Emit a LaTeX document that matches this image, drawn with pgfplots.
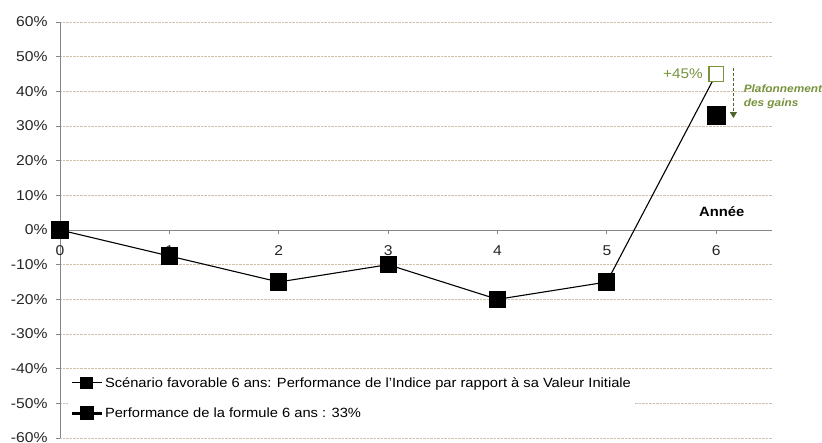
\documentclass[border=0pt]{standalone}
\usepackage{pgfplots}
\pgfplotsset{compat=1.18}
\usepackage{fontspec}
\setmainfont[FakeStretch=1.1]{Liberation Sans}
\usetikzlibrary{arrows.meta}
\definecolor{axisgray}{HTML}{868686}
\definecolor{gridtan}{HTML}{CFC2A8}
\definecolor{olivegreen}{HTML}{77933C}
\definecolor{darkolive}{HTML}{4F6228}
\begin{document}
\begin{tikzpicture}
\begin{axis}[
  scale only axis, width=712bp, height=416bp,
  xmin=0, xmax=6.51, ymin=-60, ymax=60,
  axis x line=middle, axis y line=left,
  axis line style={-, draw=axisgray, line width=0.8bp},
  hide obscured x ticks=false,
  xtick={0,1,2,3,4,5,6},
  xticklabels={0,1,2,3,4,5,6},
  ytick={-60,-50,-40,-30,-20,-10,0,10,20,30,40,50,60},
  yticklabels={-60\%,-50\%,-40\%,-30\%,-20\%,-10\%,0\%,10\%,20\%,30\%,40\%,50\%,60\%},
  tick style={draw=axisgray, line width=0.8bp},
  tick align=outside, major tick length=4bp,
  ymajorgrids, grid style={densely dotted, gridtan, line width=0.8bp},
  every tick label/.append style={font=\fontsize{14.3}{16}\selectfont, text=black!85},
  xticklabel style={yshift=-8bp},
  yticklabel style={xshift=-5bp},
  clip=false,
  legend cell align=left,
  legend style={at={(rel axis cs:0.011,0.0962)}, anchor=west, draw=none, fill=white,
    font=\fontsize{13.4}{15}\selectfont, row sep=15bp, inner xsep=2bp, inner ysep=4bp},
]
\addplot[black, line width=1.1bp, mark=square*, mark size=8bp, mark indices={1,2,3,4,5,6},
  legend image code/.code={\draw[black, line width=1.1bp] (0bp,0bp) -- (30bp,0bp); \fill[black] (9.5bp,-5.5bp) rectangle (20.5bp,5.5bp);}]
  coordinates {(0,0) (1,-7.5) (2,-15) (3,-10) (4,-20) (5,-15) (6,45)};
\addlegendentry{Scénario favorable 6 ans: Performance de l'Indice par rapport à sa Valeur Initiale}
\addplot[black, line width=3bp, mark=square*, mark size=8bp,
  legend image code/.code={\draw[black, line width=3bp] (0bp,0bp) -- (30bp,0bp); \fill[black] (9.5bp,-5.5bp) rectangle (20.5bp,5.5bp);}]
  coordinates {(6,33)};
\addlegendentry{Performance de la formule 6 ans : 33\%}
\addplot[forget plot, only marks, mark=square*, mark size=7.3bp,
  mark options={draw=olivegreen, fill=white, line width=1.2bp}]
  coordinates {(6,45)};
\draw[darkolive, densely dashed, line width=1.1bp, -{Triangle[width=7bp,length=6bp]}]
  (axis cs:6.157,46.7) -- (axis cs:6.157,32.3);
\node[anchor=east, text=olivegreen, font=\fontsize{14}{16}\selectfont] at (axis cs:5.91,45.2) {+45\%};
\node[anchor=west, text=olivegreen, font=\fontsize{10.8}{14.5}\bfseries\itshape, align=left, inner sep=0pt]
  at (axis cs:6.25,38.5) {Plafonnement\\des gains};
\node[font=\fontsize{13.5}{16}\bfseries\selectfont] at (axis cs:6.05,5.4) {Année};
\end{axis}
\pgfresetboundingbox
\path (-60bp,-5bp) rectangle (762bp,438bp);
\end{tikzpicture}
\end{document}
